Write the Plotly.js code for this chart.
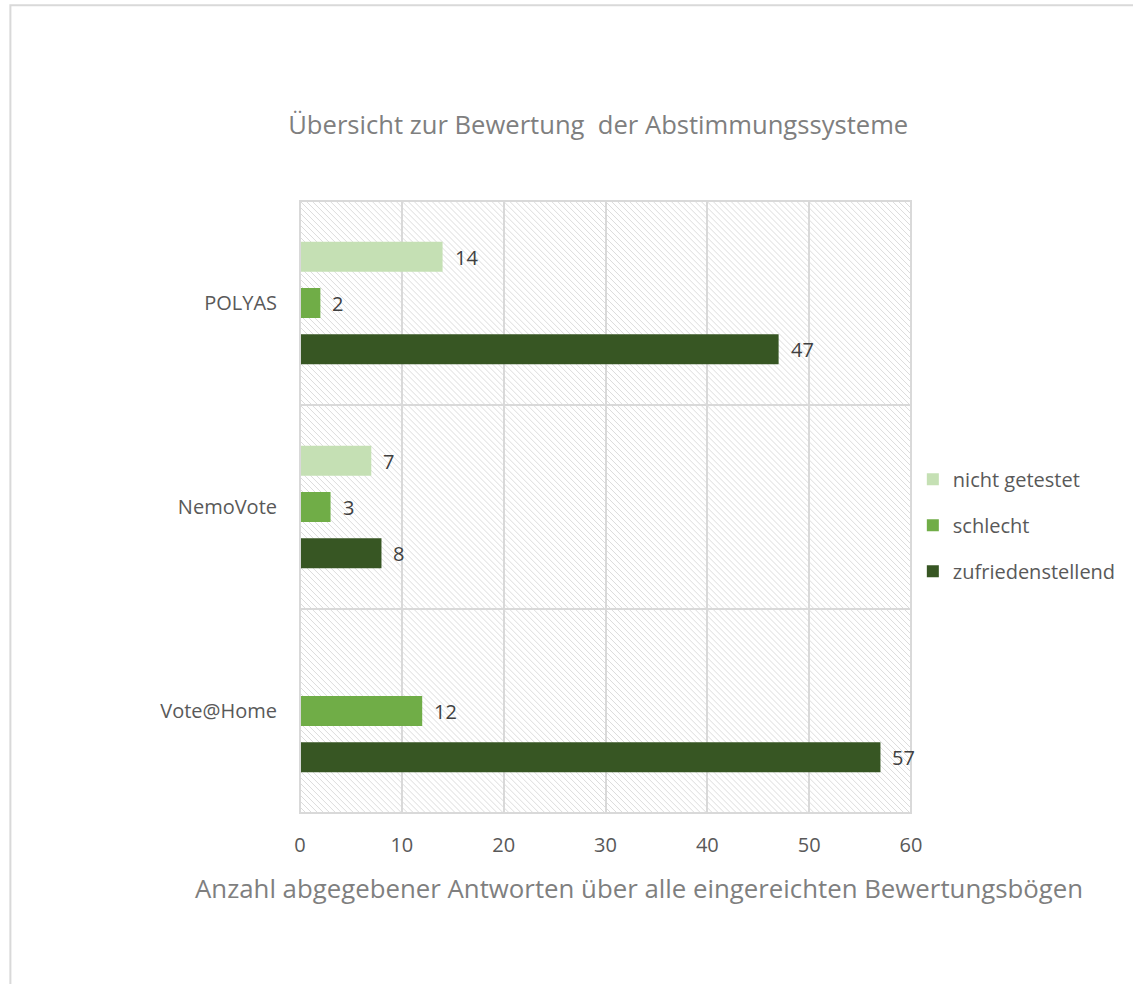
<!DOCTYPE html>
<html><head><meta charset="utf-8">
<script src="https://cdn.plot.ly/plotly-3.0.1.min.js"></script>
<style>html,body{margin:0;padding:0;background:#fff;}#chart{width:1133px;height:984px;}</style>
</head><body><div id="chart"></div>
<script>
const categories = ["POLYAS", "NemoVote", "Vote@Home"];
const seriesNames = ["nicht getestet", "schlecht", "zufriedenstellend"];
const nichtGetestet = [14, 7, null];
const schlecht = [2, 3, 12];
const zufriedenstellend = [47, 8, 57];
const xTicks = [0, 10, 20, 30, 40, 50, 60];
const colors = ["#c5e0b4", "#70ad47", "#375623"];

const values = [nichtGetestet, schlecht, zufriedenstellend];
const traces = values.map((v, i) => ({
  type: "bar", orientation: "h", name: seriesNames[i], legendgroup: "g" + i,
  y: categories, x: v,
  marker: {color: colors[i]},
  hoverinfo: "x+name"
}));

const labelAnnotations = [];
values.forEach((v, i) => {
  v.forEach((d, j) => {
    if (d == null) return;
    labelAnnotations.push({
      x: d, y: categories[j], xref: "x", yref: "y", text: String(d),
      showarrow: false, xanchor: "left", yanchor: "middle",
      xshift: 10, yshift: (1 - i) * 46,
      font: {family: "Open Sans", size: 20, color: "#404040"}
    });
  });
});

const hatch = "data:image/svg+xml;charset=utf-8," + encodeURIComponent(
  '<svg xmlns="http://www.w3.org/2000/svg" width="613" height="612">' +
  '<defs><pattern id="p" width="6" height="6" patternUnits="userSpaceOnUse">' +
  '<path d="M-1,-1 L7,7 M-7,-1 L1,7 M5,-1 L13,7" stroke="#dcdcdc" stroke-width="1"/></pattern></defs>' +
  '<rect width="613" height="612" fill="url(#p)"/></svg>');

const layout = {
  width: 1133, height: 984,
  margin: {l: 300, r: 220, t: 201, b: 171},
  paper_bgcolor: "#fff", plot_bgcolor: "rgba(0,0,0,0)",
  font: {family: "Open Sans", color: "#595959"},
  title: {text: "Übersicht zur Bewertung  der Abstimmungssysteme",
    font: {family: "Open Sans", size: 25.6, color: "#7f7f7f"},
    x: 0.528, xanchor: "center", y: 0.873, yanchor: "middle"},
  barmode: "group", bargap: 0.32, bargroupgap: 0.35,
  xaxis: {range: [0, 60], tickvals: xTicks, ticktext: xTicks.map(String),
    showgrid: true, gridcolor: "#d9d9d9", gridwidth: 2, zeroline: false,
    showline: false, ticks: "", ticklen: 0, ticklabelstandoff: 18,
    tickfont: {family: "Open Sans", size: 20, color: "#595959"}},
  yaxis: {type: "category", autorange: "reversed", tickson: "boundaries",
    showgrid: true, gridcolor: "#d9d9d9", gridwidth: 2, showline: false,
    ticks: "", ticklabelstandoff: 22,
    tickfont: {family: "Open Sans", size: 20, color: "#595959"}},
  legend: {x: 1.003, xanchor: "left", y: 0.47, yanchor: "middle",
    bgcolor: "rgba(0,0,0,0)",
    font: {family: "Open Sans", size: 20, color: "#595959"},
    tracegroupgap: 17, itemwidth: 30, traceorder: "grouped"},
  annotations: labelAnnotations.concat([{
    xref: "paper", yref: "paper", x: 0.555, y: -0.1225, xanchor: "center", yanchor: "middle",
    showarrow: false,
    text: "Anzahl abgegebener Antworten über alle eingereichten Bewertungsbögen",
    font: {family: "Open Sans", size: 25.8, color: "#7f7f7f"}
  }]),
  images: [{source: hatch, xref: "paper", yref: "paper", x: 0, y: 1,
    sizex: 1, sizey: 1, xanchor: "left", yanchor: "top", sizing: "stretch", layer: "below"}],
  shapes: [
    {type: "rect", xref: "paper", yref: "paper", x0: 0, x1: 1, y0: 0, y1: 1,
      line: {color: "#d9d9d9", width: 2}, fillcolor: "rgba(0,0,0,0)"},
    {type: "rect", xref: "paper", yref: "paper", x0: -0.474, x1: 1.5, y0: -0.5, y1: 1.32,
      line: {color: "#d9d9d9", width: 2}, fillcolor: "rgba(0,0,0,0)", layer: "below"}
  ],
  showlegend: true
};
Plotly.newPlot("chart", traces, layout, {displayModeBar: false, staticPlot: true});
</script></body></html>
